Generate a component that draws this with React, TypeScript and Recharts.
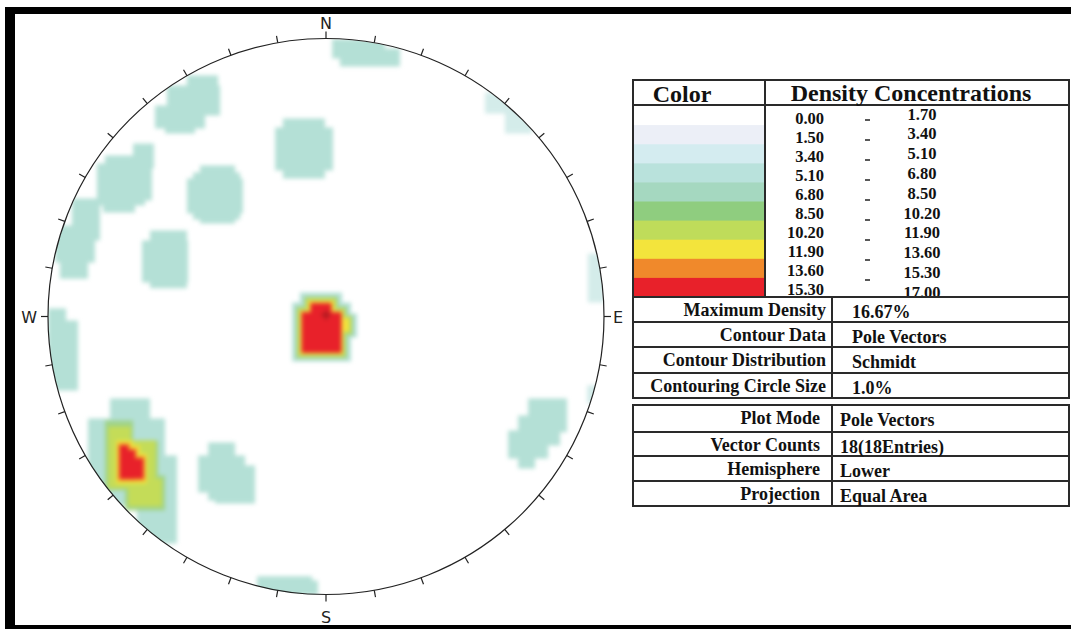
import React from 'react';
import {
  ScatterChart, Scatter, XAxis, YAxis, ReferenceArea,
  RadarChart, PolarAngleAxis, PolarRadiusAxis, Radar,
} from 'recharts';

// ---------- stereonet data (units: % of primitive-circle radius, x = E, y = N) ----------
const azimuths = [0, 10, 20, 30, 40, 50, 60, 70, 80, 90, 100, 110, 120, 130, 140, 150, 160, 170,
  180, 190, 200, 210, 220, 230, 240, 250, 260, 270, 280, 290, 300, 310, 320, 330, 340, 350];
const compassNames: Record<number, string> = { 0: 'N', 90: 'E', 180: 'S', 270: 'W' };

// density cells [x1, y1, x2, y2]
const faintCells = [
  [94.2, 22.8, 100, 5.2], [93.9, -24.6, 100, -31.1],
  [57.2, 80.8, 66.2, 73.2], [64.4, 76.1, 74.1, 66],
];
const tealCells = [
  [2.2, 100.2, 21.2, 93], [5, 96.6, 26.6, 90.1],
  [-50, 86.9, -38.8, 81.5], [-57.2, 83.3, -38.1, 72.5], [-61.5, 76.1, -43.5, 67.8], [-57.9, 68.9, -47.1, 66],
  [-15.5, 71.4, -0.4, 49.8], [-18.3, 68.2, 2.5, 52.7],
  [-69.4, 62.4, -61.9, 53.4], [-79.5, 58.1, -62.6, 41.9], [-82.4, 55.2, -65.1, 40.1], [-80.2, 41.9, -68.7, 37.6],
  [-45.3, 54.5, -32.7, 33.6], [-50, 49.8, -29.9, 37.2], [-47.8, 52, -30.9, 35.1],
  [-91.4, 42.6, -81.3, 27.5], [-97.5, 32.9, -83.1, 19.6], [-95.7, 22.1, -85.6, 13.8],
  [-63.3, 31.1, -50, 10.3], [-66.2, 27.5, -49.6, 12.4],
  [-100, 3.1, -93.5, -2], [-100, -1.3, -89.2, -26.4],
  [-9.4, 8.8, 5.8, 2.3], [-12.2, 5.2, 9, -16], [7.6, 1.3, 11.2, -7.4],
  [-77.7, -29.3, -63.3, -39], [-85.6, -36.5, -57.9, -67.8], [-70.5, -49.8, -53.6, -67.8], [-68, -66, -53.6, -81.5],
  [-42.4, -45.1, -32.7, -66], [-46, -49.8, -29.1, -63.1], [-39.9, -53.4, -25.5, -67.1],
  [-24.8, -93.3, -5, -100], [-11.2, -94.8, -2.9, -100],
  [72.7, -29.3, 86.7, -41.5], [69.1, -35.4, 84.2, -46.2], [65.5, -40.8, 79.9, -50.9], [69.1, -49.8, 75.2, -54.5],
];
const greenCells = [
  [-7.9, 7.4, 4.3, 2.0], [-10.8, 3.8, 7.6, -14.9], [6.8, 0.5, 9.7, -6.7],
  [-79.5, -37.2, -69.4, -46.2], [-79.5, -44.4, -60.4, -62.4], [-72.3, -57, -57.9, -69.6],
];
const yellowGreenCells = [
  [-7.2, 6.7, 3.6, 1.6], [-10.1, 3.1, 6.8, -14.2], [6.1, 0.2, 9, -5.9],
  [-78.4, -39.4, -70.1, -46.2], [-78.4, -44.4, -61.2, -61.7], [-71.2, -58.1, -59, -68.2],
];
const yellowCells = [
  [-6.5, 5.9, 2.9, 1.3], [-9.4, 2.3, 6.1, -13.5], [5.4, -0.5, 8.3, -5.2],
  [-75.5, -44.4, -69.4, -51.3], [-75.5, -46.2, -66.9, -59.9], [-75.5, -49.1, -64.4, -59.9],
];
const orangeCells = [
  [-5.8, 5.2, 2.2, 0.9], [-9, 2.0, 5.8, -13.1],
  [-74.8, -45.5, -70.5, -50.2], [-74.8, -47.3, -68, -58.8], [-74.8, -50.2, -65.1, -58.8],
];
const redCells = [
  [-5.4, 4.9, 1.8, 0.5], [-8.6, 1.6, 5.4, -12.8],
  [-74.1, -46.2, -71.2, -49.8], [-74.1, -47.9, -68.7, -58.1], [-74.1, -50.9, -65.8, -58.1],
];
const centerMark = [{ x: 0, y: 0 }];

// ---------- legend / info table ----------
const densityLow = ['0.00', '1.50', '3.40', '5.10', '6.80', '8.50', '10.20', '11.90', '13.60', '15.30'];
const densityHigh = ['1.70', '3.40', '5.10', '6.80', '8.50', '10.20', '11.90', '13.60', '15.30', '17.00'];
const bandColors = ['#ffffff', '#eceff7', '#d4ecf0', '#b9e2dc', '#a5d8c0', '#8fcd7f', '#bfdc5a', '#f3e43c', '#f0892b', '#e8212a'];
const contourLabels = ['Maximum Density', 'Contour Data', 'Contour Distribution', 'Contouring Circle Size'];
const contourValues = ['16.67%', 'Pole Vectors', 'Schmidt', '1.0%'];
const plotLabels = ['Plot Mode', 'Vector Counts', 'Hemisphere', 'Projection'];
const plotValues = ['Pole Vectors', '18(18Entries)', 'Lower', 'Equal Area'];

const levelStyles = [
  { cells: faintCells, color: '#d4ecea' },
  { cells: tealCells, color: '#b4e0d6' },
  { cells: greenCells, color: '#9fd38a' },
  { cells: yellowGreenCells, color: '#c4dc58' },
  { cells: yellowCells, color: '#f2e23c' },
  { cells: orangeCells, color: '#f0892b' },
  { cells: redCells, color: '#e8212a' },
];

const CX = 326, CY = 316.5, R = 278;
const SERIF = '"Liberation Serif", "Times New Roman", serif';
const SANS = '"DejaVu Sans", Verdana, sans-serif';

const CenterCross = (props: any) => {
  const { cx, cy } = props;
  return (
    <g stroke="#6a1212" strokeWidth={1}>
      <line x1={cx - 5} y1={cy - 2} x2={cx + 5} y2={cy - 2} />
      <line x1={cx} y1={cy - 7} x2={cx} y2={cy + 3} />
    </g>
  );
};

const CompassTick = (props: any) => {
  const { x, y, payload } = props;
  const name = compassNames[payload?.value];
  if (!name) return <g />;
  let dx = 0, dy = 0, anchor: any = 'middle';
  if (name === 'N') dy = -3;
  if (name === 'S') dy = 21;
  if (name === 'E') { dx = 2; dy = 6; anchor = 'start'; }
  if (name === 'W') { dx = -4; dy = 6; anchor = 'end'; }
  return (
    <text x={x + dx} y={y + dy} textAnchor={anchor} fontSize={16} fontFamily={SANS} fill="#222">{name}</text>
  );
};

function InfoTable() {
  const L = 633, RT = 1069, S1 = 765, S2 = 832;
  const headTop = 80, headBottom = 105, bandTop = 106, bodyBottom = 297;
  const bandH = (bodyBottom - bandTop) / bandColors.length;
  const sec1 = [297, 322, 347, 373, 398];
  const sec2 = [405, 432, 456, 481, 506];
  const line = { stroke: '#2a2a2a', strokeWidth: 2 };
  const section = (rows: number[], labels: string[], values: string[], labelX: number, valueX: number) => (
    <g>
      <rect x={L} y={rows[0]} width={RT - L} height={rows[rows.length - 1] - rows[0]} fill="none" {...line} />
      {rows.slice(1, -1).map((r, i) => <line key={i} x1={L} x2={RT} y1={r} y2={r} {...line} />)}
      <line x1={S2} x2={S2} y1={rows[0]} y2={rows[rows.length - 1]} {...line} />
      {labels.map((t, i) => (
        <text key={'l' + i} x={labelX} y={rows[i] + 19} textAnchor="end" fontSize={18} fontWeight="bold" fontFamily={SERIF} fill="#111">{t}</text>
      ))}
      {values.map((t, i) => (
        <text key={'v' + i} x={valueX} y={rows[i] + 21} fontSize={18} fontWeight="bold" fontFamily={SERIF} fill="#111">{t}</text>
      ))}
    </g>
  );
  return (
    <svg width={1071} height={629} style={{ position: 'absolute', left: 0, top: 0 }}>
      {bandColors.map((c, i) => (
        <rect key={i} x={L + 1} y={bandTop + i * bandH} width={S1 - L - 2} height={bandH + 0.5} fill={c} />
      ))}
      <rect x={L} y={headTop} width={RT - L} height={bodyBottom - headTop} fill="none" {...line} />
      <line x1={L} x2={RT} y1={headBottom} y2={headBottom} {...line} />
      <line x1={S1} x2={S1} y1={headTop} y2={bodyBottom} {...line} />
      <text x={682} y={102} textAnchor="middle" fontSize={24} fontWeight="bold" fontFamily={SERIF} fill="#111">Color</text>
      <text x={911} y={101} textAnchor="middle" fontSize={24} fontWeight="bold" fontFamily={SERIF} fill="#111">Density Concentrations</text>
      {densityLow.map((t, i) => (
        <text key={'a' + i} x={824} y={118 + i * 19.1 + 5.5} textAnchor="end" fontSize={16.5} fontWeight="bold" fontFamily={SERIF} fill="#111">{t}</text>
      ))}
      {densityHigh.map((t, i) => (
        <text key={'b' + i} x={922} y={114 + i * 19.8 + 5.5} textAnchor="middle" fontSize={16.5} fontWeight="bold" fontFamily={SERIF} fill="#111">{t}</text>
      ))}
      {densityHigh.slice(0, 9).map((_, i) => (
        <line key={'d' + i} x1={865} x2={870} y1={120 + i * 20} y2={120 + i * 20} stroke="#222" strokeWidth={1.5} />
      ))}
      {section(sec1, contourLabels, contourValues, 826, 852)}
      {section(sec2, plotLabels, plotValues, 820, 840)}
    </svg>
  );
}

export default function App() {
  const ringData = azimuths.map((az) => ({ az, r: 0 }));
  return (
    <div style={{ position: 'absolute', left: 0, top: 0, width: 1071, height: 629, background: '#fff', overflow: 'hidden' }}>
      {/* frame */}
      <div style={{ position: 'absolute', left: 5, top: 7, width: 1066, height: 7, background: '#000' }} />
      <div style={{ position: 'absolute', left: 5, top: 7, width: 10, height: 622, background: '#000' }} />
      <div style={{ position: 'absolute', left: 5, top: 625, width: 1066, height: 4, background: '#000' }} />

      {/* density contours, clipped to the primitive circle */}
      <div style={{ position: 'absolute', left: CX - R, top: CY - R, width: 2 * R, height: 2 * R, borderRadius: '50%', overflow: 'hidden' }}>
        <div style={{ filter: 'blur(2.2px)', width: 2 * R, height: 2 * R }}>
          <ScatterChart width={2 * R} height={2 * R} margin={{ top: 0, right: 0, bottom: 0, left: 0 }}>
            <XAxis type="number" dataKey="x" domain={[-100, 100]} allowDataOverflow hide />
            <YAxis type="number" dataKey="y" domain={[-100, 100]} allowDataOverflow hide />
            {levelStyles.map((lv, li) =>
              lv.cells.map((c, i) => (
                <ReferenceArea key={li + '-' + i} x1={c[0]} y1={c[1]} x2={c[2]} y2={c[3]}
                  fill={lv.color} fillOpacity={1} stroke="none" ifOverflow="visible" />
              ))
            )}
            <Scatter data={centerMark} shape={CenterCross} isAnimationActive={false} />
          </ScatterChart>
        </div>
      </div>

      {/* primitive circle, azimuth ticks, compass labels */}
      <div style={{ position: 'absolute', left: 0, top: 0 }}>
        <RadarChart width={640} height={629} cx={CX} cy={CY} outerRadius={R} data={ringData}
          margin={{ top: 0, right: 0, bottom: 0, left: 0 }}>
          <PolarRadiusAxis domain={[0, 1]} axisLine={false} tick={false} />
          <PolarAngleAxis dataKey="az" type="category" axisLineType="circle" stroke="#222"
            axisLine={{ stroke: '#222', strokeWidth: 1.2 }} tickLine={{ stroke: '#222', strokeWidth: 1.2 }}
            tickSize={7} tick={CompassTick} />
          <Radar dataKey="r" stroke="none" fill="none" dot={false} isAnimationActive={false} />
        </RadarChart>
      </div>

      <InfoTable />
    </div>
  );
}
